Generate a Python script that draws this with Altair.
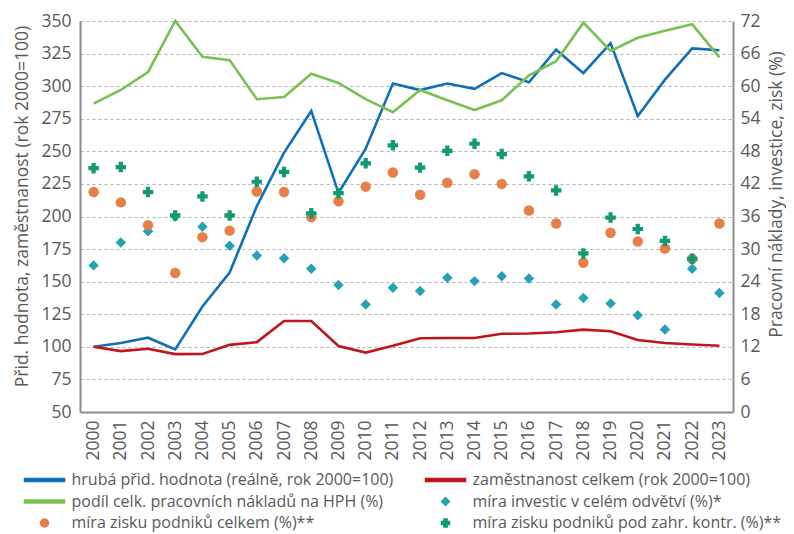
import altair as alt
import pandas as pd

years = [str(y) for y in range(2000, 2024)]

hph = [100, 103, 107, 98, 131, 157, 208, 249, 281, 218, 252, 302, 297, 302, 298,
       310, 303, 328, 310, 333, 277, 305, 329, 327.5]
emp = [100, 96.7, 98.5, 94.4, 94.5, 101.5, 103.6, 119.8, 119.8, 100.6, 95.6, 100.8,
       106.6, 106.8, 106.8, 110, 110.2, 111.2, 113.2, 112, 105.3, 103, 101.8, 100.8]
labour = [56.8, 59.3, 62.6, 72.0, 65.4, 64.8, 57.6, 58.0, 62.3, 60.6, 57.6, 55.2,
          59.3, 57.4, 55.6, 57.4, 62.0, 64.6, 71.7, 66.5, 68.9, 70.2, 71.4, 65.3]
invest = [27.0, 31.2, 33.3, 36.0, 34.1, 30.6, 28.8, 28.3, 26.4, 23.4, 19.8, 22.9,
          22.3, 24.7, 24.1, 25.0, 24.6, 19.8, 21.0, 20.0, 17.8, 15.2, 26.4, 21.9]
profit_total = [40.5, 38.6, 34.4, 25.6, 32.2, 33.4, 40.6, 40.5, 35.9, 38.8, 41.5, 44.1,
                40.0, 42.2, 43.8, 42.0, 37.1, 34.7, 27.5, 33.0, 31.4, 30.1, 28.2, 34.7]
profit_foreign = [44.9, 45.1, 40.5, 36.2, 39.7, 36.2, 42.4, 44.2, 36.6, 40.3, 45.8, 49.1,
                  45.0, 48.1, 49.4, 47.5, 43.4, 40.8, 29.2, 35.8, 33.7, 31.5, 28.2, None]

n_hph = "hrubá přid. hodnota (reálně, rok 2000=100)"
n_emp = "zaměstnanost celkem (rok 2000=100)"
n_lab = "podíl celk. pracovních nákladů na HPH (%)"
n_inv = "míra investic v celém odvětví (%)*"
n_pt = "míra zisku podniků celkem (%)**"
n_pf = "míra zisku podniků pod zahr. kontr. (%)**"

# legend is filled column by column: first column, then second column
names = [n_hph, n_lab, n_pt, n_emp, n_inv, n_pf]
colors = ["#0f6fb8", "#78c150", "#e67f48", "#c0141f", "#25a2b6", "#0f9a70"]
LINEPATH = "M-5,-0.35H5V0.35H-5Z"
shapes = [LINEPATH, LINEPATH, "circle", LINEPATH, "diamond", "cross"]


def long(series_list):
    rows = []
    for name, vals in series_list:
        for y, v in zip(years, vals):
            if v is not None:
                rows.append({"year": y, "series": name, "v": v})
    return pd.DataFrame(rows)


df_left = long([(n_hph, hph), (n_emp, emp)])
df_green = long([(n_lab, labour)])
df_pts = long([(n_inv, invest), (n_pt, profit_total), (n_pf, profit_foreign)])

FONT = "Open Sans"
GRAY = "#595959"

color_scale = alt.Scale(domain=names, range=colors)
shape_scale = alt.Scale(domain=names, range=shapes)
color_enc = alt.Color("series:N", scale=color_scale, legend=alt.Legend(title=None), sort=names)

x_enc = alt.X(
    "year:O",
    scale=alt.Scale(type="point", padding=0.5),
    axis=alt.Axis(title=None, labelAngle=270, labelPadding=8, ticks=False, grid=False),
)

y_left = alt.Y(
    "v:Q",
    scale=alt.Scale(domain=[50, 350], nice=False, zero=False),
    axis=alt.Axis(
        title="Přid. hodnota, zaměstnanost (rok 2000=100)",
        values=list(range(50, 351, 25)),
        grid=True, gridDash=[3, 3], gridColor="#b0b0b0", gridWidth=1,
        ticks=False, labelPadding=9,
        titleAngle=270, titleX=-53, titleY=185, titleAlign="center",
        titleBaseline="alphabetic",
    ),
)

y_right = alt.Y(
    "v:Q",
    scale=alt.Scale(domain=[0, 72], nice=False, zero=False),
    axis=alt.Axis(
        title="Pracovní náklady, investice, zisk (%)",
        orient="right",
        values=list(range(0, 73, 6)),
        grid=False, ticks=False, labelPadding=7,
        titleAngle=270, titleX=48, titleY=173, titleAlign="center",
        titleBaseline="alphabetic",
    ),
)

left_lines = alt.Chart(df_left).mark_line(strokeWidth=2.6).encode(
    x=x_enc, y=y_left, color=color_enc
)

green_line = alt.Chart(df_green).mark_line(strokeWidth=2.6).encode(
    x=x_enc, y=y_right, color=color_enc
)

points = alt.Chart(df_pts).mark_point(filled=True, size=110, opacity=1).encode(
    x=x_enc, y=y_right, color=color_enc,
    shape=alt.Shape("series:N", scale=shape_scale, legend=alt.Legend(title=None), sort=names),
)

chart = (
    alt.layer(alt.layer(left_lines), alt.layer(green_line, points))
    .resolve_scale(y="independent")
    .properties(
        width=653, height=391,
        padding={"left": 72, "top": 13, "right": 53, "bottom": 130},
        autosize=alt.AutoSizeParams(type="none"),
    )
    .configure_view(stroke=None)
    .configure_axis(
        labelFont=FONT, labelFontSize=17.5, labelColor=GRAY,
        titleFont=FONT, titleFontSize=17.5, titleFontWeight="normal", titleColor=GRAY,
        domainColor="#8c8c8c", domainWidth=2,
    )
    .configure_legend(
        orient="none", legendX=-43.5, legendY=451,
        columns=2, columnPadding=29, rowPadding=5.5,
        labelFont=FONT, labelFontSize=16, labelColor=GRAY, labelLimit=600,
        labelOffset=19, symbolSize=64, padding=0,
    )
)

chart.save("out.html", embed_options={"renderer": "svg", "actions": False})
